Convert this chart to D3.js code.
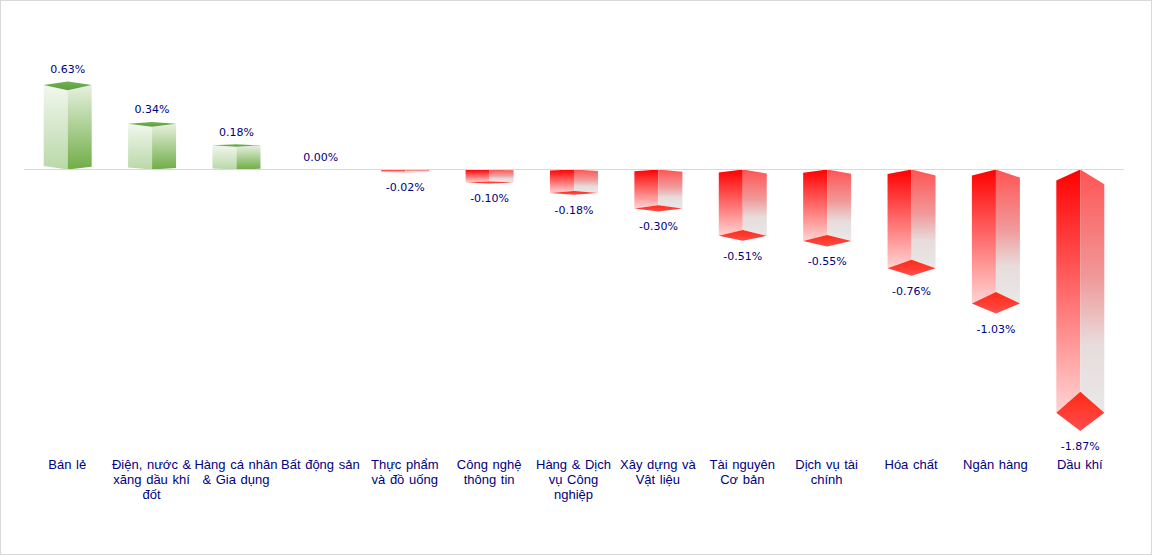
<!DOCTYPE html>
<html><head><meta charset="utf-8">
<script src="https://cdnjs.cloudflare.com/ajax/libs/d3/7.8.5/d3.min.js"></script>
<style>html,body{margin:0;padding:0;background:#fff}svg{display:block}</style></head>
<body><svg id="c" width="1152" height="555"></svg>
<script>
const categories = [
 ["Bán lẻ"],
 ["Điện, nước &","xăng dầu khí","đốt"],
 ["Hàng cá nhân","& Gia dụng"],
 ["Bất động sản"],
 ["Thực phẩm","và đồ uống"],
 ["Công nghệ","thông tin"],
 ["Hàng & Dịch","vụ Công","nghiệp"],
 ["Xây dựng và","Vật liệu"],
 ["Tài nguyên","Cơ bản"],
 ["Dịch vụ tài","chính"],
 ["Hóa chất"],
 ["Ngân hàng"],
 ["Dầu khí"]
];
const values = [0.63,0.34,0.18,0,-0.02,-0.10,-0.18,-0.30,-0.51,-0.55,-0.76,-1.03,-1.87];

const svg = d3.select("#c");
const x = d3.scaleBand().domain(d3.range(values.length)).range([25.5,1122.5]).paddingInner(0.43).paddingOuter(0.215);
const y = d3.scaleLinear().domain([0,-1.87]).range([169.5,431]);
const hw = 24;

const defs = svg.append("defs");
function grad(id,stops){
  const g=defs.append("linearGradient").attr("id",id).attr("x1",0).attr("y1",0).attr("x2",0).attr("y2",1);
  stops.forEach(([o,c])=>g.append("stop").attr("offset",o).attr("stop-color",c));
}
grad("gl",[[0,"#f1f7ee"],[1,"#b9d8a8"]]);
grad("gr",[[0,"#e6f0df"],[1,"#70ad47"]]);
grad("gt",[[0,"#72b052"],[1,"#5f9f3e"]]);
grad("rl",[[0,"#ff0000"],[0.5,"#ff6a6a"],[1,"#ffd4d4"]]);
grad("rr",[[0,"#ff5454"],[0.45,"#f09a9a"],[0.72,"#e8dcdc"],[1,"#e8e8e8"]]);
grad("rt",[[0,"#ff2a14"],[1,"#ff4d4d"]]);

svg.append("rect").attr("x",0.5).attr("y",0.5).attr("width",1151).attr("height",554).attr("fill","#fff").attr("stroke","#d9d9d9");

const g = svg.append("g");
values.forEach((v,i)=>{
  if(v===0) return;
  const c = x(i)+x.bandwidth()/2, y0=y(0), L=y(v)-y0;   // L signed length
  const at = f => y0+L*f;
  const pts = a=>a.map(p=>p.join(",")).join(" ");
  const pos = v>0;
  const l=c-hw, r=c+hw;
  if(pos){
    g.append("polygon").attr("points",pts([[c,at(.9)],[l,at(.96)],[l,at(.04)],[c,y0]])).attr("fill","url(#gl)");
    g.append("polygon").attr("points",pts([[c,at(.9)],[r,at(.96)],[r,at(.03)],[c,y0]])).attr("fill","url(#gr)");
    g.append("polygon").attr("points",pts([[c,at(1)],[r,at(.96)],[c,at(.9)],[l,at(.96)]])).attr("fill","url(#gt)");
  } else {
    g.append("polygon").attr("points",pts([[c,y0],[l,at(.042)],[l,at(.93)],[c,at(.85)]])).attr("fill","url(#rl)");
    g.append("polygon").attr("points",pts([[c,y0],[r,at(.056)],[r,at(.93)],[c,at(.85)]])).attr("fill","url(#rr)");
    g.append("polygon").attr("points",pts([[c,at(.85)],[r,at(.93)],[c,at(1)],[l,at(.93)]])).attr("fill","url(#rt)");
  }
});
svg.append("line").attr("x1",24).attr("x2",1124).attr("y1",169.5).attr("y2",169.5).attr("stroke","#d9d9d9");

const fmt = v=>v.toFixed(2)+"%";
svg.append("g").selectAll("text").data(values).join("text")
  .attr("x",(d,i)=>x(i)+x.bandwidth()/2)
  .attr("y",d=>d>=0?y(d)-8.5:y(d)+19)
  .attr("text-anchor","middle")
  .attr("font-family","'DejaVu Sans',Verdana,sans-serif").attr("font-size",11).attr("fill","#000080")
  .text(fmt);

const lab = svg.append("g");
categories.forEach((lines,i)=>{
  const t=lab.append("text").attr("text-anchor","middle").attr("font-family","'Liberation Sans',Arial,sans-serif").attr("font-size",13).attr("word-spacing",1).attr("fill","#000080");
  lines.forEach((s,k)=>t.append("tspan").attr("x",x(i)+x.bandwidth()/2-0.5).attr("y",469+k*15).text(s));
});
</script></body></html>
